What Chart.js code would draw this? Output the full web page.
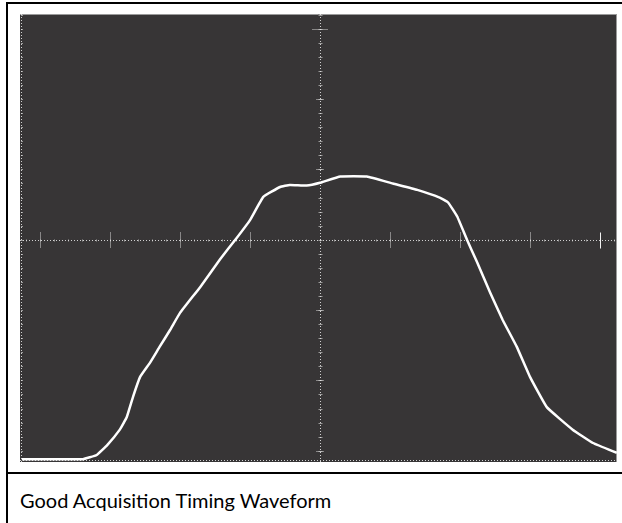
<!doctype html>
<html>
	<head>
		<title>Good Acquisition Timing Waveform</title>
		<script src="https://cdn.jsdelivr.net/npm/chart.js@4"></script>
		<style>
			html, body {
				margin: 0;
				padding: 0;
				background: #fff;
			}
			#frame {
				position: relative;
				width: 622px;
				height: 523px;
				overflow: hidden;
			}
			#frame .top { position: absolute; left: 6px; top: 2px; width: 616px; height: 2px; background: #000; }
			#frame .left { position: absolute; left: 6px; top: 2px; width: 2px; height: 521px; background: #000; }
			#frame .mid { position: absolute; left: 6px; top: 472px; width: 616px; height: 2px; background: #000; }
			#scope {
				position: absolute;
				left: 20px;
				top: 14px;
				width: 597px;
				height: 448px;
			}
			#caption {
				position: absolute;
				left: 20px;
				top: 488px;
				font-family: Lato, "Open Sans", sans-serif;
				font-size: 20px;
				color: #000;
				white-space: nowrap;
			}
		</style>
	</head>
	<body>
		<div id="frame">
			<div class="top"></div>
			<div class="left"></div>
			<div class="mid"></div>
			<div id="scope"><canvas id="canvas"></canvas></div>
			<div id="caption">Good Acquisition Timing Waveform</div>
		</div>

		<script>
			// trace, in screen divisions (centre of the graticule = 0,0)
			var traceX = [-4.26, -3.39, -3.19, -3.04, -2.86, -2.76, -2.67, -2.57, -2.43, -2.29, -2.14, -2.00,
				-1.71, -1.43, -1.21, -1.00, -0.81, -0.57, -0.43, -0.19, 0.00, 0.29, 0.67, 1.04, 1.39, 1.71,
				1.83, 1.96, 2.10, 2.24, 2.43, 2.61, 2.81, 3.00, 3.24, 3.61, 3.90, 4.24];
			var traceY = [-3.12, -3.12, -3.06, -2.92, -2.70, -2.52, -2.23, -1.95, -1.75, -1.52, -1.28, -1.04,
				-0.67, -0.28, 0.00, 0.28, 0.61, 0.75, 0.78, 0.77, 0.81, 0.90, 0.90, 0.80, 0.71, 0.60,
				0.53, 0.33, 0.00, -0.31, -0.75, -1.14, -1.52, -1.95, -2.38, -2.70, -2.89, -3.03];
			var majorX = [-4, -3, -2, -1, 1, 2, 3, 4];
			var majorY = [-3, -2, -1, 1, 2, 3];

			var points = [];
			for (var i = 0; i < traceX.length; i++) {
				points.push({ x: traceX[i], y: traceY[i] });
			}

			function dotted(ctx, x1, y1, x2, y2) {
				ctx.beginPath();
				ctx.moveTo(x1, y1);
				ctx.lineTo(x2, y2);
				ctx.stroke();
			}

			var graticule = {
				id: 'graticule',
				beforeDraw: function(chart) {
					var ctx = chart.ctx, a = chart.chartArea;
					var sx = chart.scales.x, sy = chart.scales.y;
					var cx = Math.round(sx.getPixelForValue(0)) + 0.5;
					var cy = Math.round(sy.getPixelForValue(0)) + 0.5;
					ctx.save();
					ctx.fillStyle = '#373536';
					ctx.fillRect(a.left, a.top, a.right - a.left, a.bottom - a.top);

					// light rim on top and right
					ctx.strokeStyle = '#9a9a9a';
					ctx.lineWidth = 1;
					dotted(ctx, a.left, a.top + 0.5, a.right, a.top + 0.5);
					dotted(ctx, a.right - 0.5, a.top, a.right - 0.5, a.bottom);

					ctx.strokeStyle = 'rgba(235,235,235,0.85)';
					ctx.setLineDash([1, 2]);
					// left and bottom edges
					dotted(ctx, a.left + 1.5, a.top, a.left + 1.5, a.bottom);
					dotted(ctx, a.left, a.bottom - 1.5, a.right, a.bottom - 1.5);
					// centre cross
					dotted(ctx, a.left, cy, a.right, cy);
					dotted(ctx, cx, a.top, cx, a.bottom);

					// minor ticks
					ctx.setLineDash([]);
					ctx.strokeStyle = 'rgba(220,220,220,0.6)';
					for (var v = -15; v <= 16; v++) {
						var py = Math.round(sy.getPixelForValue(v / 5)) + 0.5;
						dotted(ctx, cx - 2, py, cx + 2, py);
						var lx = a.left + 1;
						dotted(ctx, lx, py, lx + 2, py);
					}
					for (var u = -21; u <= 21; u++) {
						var px = Math.round(sx.getPixelForValue(u / 5)) + 0.5;
						dotted(ctx, px, cy - 1, px, cy + 1);
					}

					// major ticks
					ctx.setLineDash([1, 1]);
					ctx.strokeStyle = 'rgba(235,235,235,0.9)';
					majorX.forEach(function(m) {
						var px = Math.round(sx.getPixelForValue(m)) + 0.5;
						if (m === 4) {
							ctx.setLineDash([]);
							ctx.strokeStyle = '#f2f2f2';
						}
						dotted(ctx, px, cy - 8, px, cy + 8);
						ctx.setLineDash([1, 1]);
						ctx.strokeStyle = 'rgba(235,235,235,0.9)';
					});
					majorY.forEach(function(m) {
						var py = Math.round(sy.getPixelForValue(m)) + 0.5;
						var w = m === 3 ? 8 : 4;
						dotted(ctx, cx - w, py, cx + w, py);
					});
					ctx.restore();
				}
			};

			new Chart(document.getElementById('canvas'), {
				type: 'scatter',
				data: {
					datasets: [{
						data: points,
						showLine: true,
						borderColor: '#ffffff',
						borderWidth: 2.5,
						pointRadius: 0,
						tension: 0.1
					}]
				},
				options: {
					responsive: true,
					maintainAspectRatio: false,
					animation: false,
					layout: { padding: 0 },
					plugins: {
						legend: { display: false },
						tooltip: { enabled: false }
					},
					scales: {
						x: { type: 'linear', min: -4.286, max: 4.243, display: false },
						y: { type: 'linear', min: -3.16, max: 3.21, display: false }
					}
				},
				plugins: [graticule]
			});
		</script>
	</body>
</html>
